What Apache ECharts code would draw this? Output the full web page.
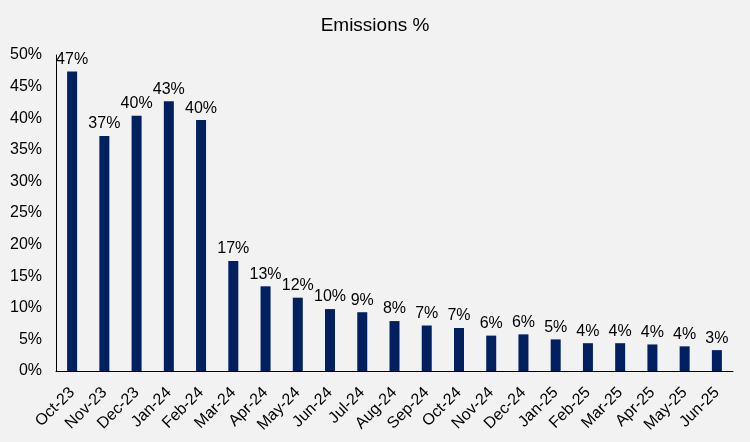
<!DOCTYPE html>
<html>
<head>
<meta charset="utf-8">
<script src="https://cdn.jsdelivr.net/npm/echarts@6/dist/echarts.min.js"></script>
<style>
html,body{margin:0;padding:0;background:#f2f2f2;}
#c{width:750px;height:442px;}
</style>
</head>
<body>
<div id="c"></div>
<script>
var categories = ["Oct-23","Nov-23","Dec-23","Jan-24","Feb-24","Mar-24","Apr-24","May-24","Jun-24","Jul-24","Aug-24","Sep-24","Oct-24","Nov-24","Dec-24","Jan-25","Feb-25","Mar-25","Apr-25","May-25","Jun-25"];
var emissions = [47.4,37.2,40.4,42.7,39.7,17.4,13.4,11.6,9.8,9.3,7.9,7.2,6.8,5.6,5.8,5.0,4.4,4.4,4.2,3.9,3.3];
var yTicks = {min:0, max:50, interval:5};

var chart = echarts.init(document.getElementById('c'));
chart.setOption({
  backgroundColor:'#f2f2f2',
  animation:false,
  title:{text:'Emissions %', left:'center', top:11, textStyle:{fontFamily:'Liberation Sans, Arial', fontSize:19, fontWeight:'normal', color:'#000'}},
  grid:{left:56, right:17, top:55, bottom:71},
  xAxis:{type:'category', data:categories,
    axisLine:{lineStyle:{color:'#000', width:1}},
    axisTick:{show:false},
    axisLabel:{rotate:45, interval:0, color:'#000', fontSize:16, fontFamily:'Liberation Sans, Arial', margin:19}},
  yAxis:{type:'value', min:yTicks.min, max:yTicks.max, interval:yTicks.interval,
    axisLine:{show:true, lineStyle:{color:'#000', width:1}},
    axisTick:{show:false},
    splitLine:{show:false},
    axisLabel:{formatter:'{value}%', color:'#000', fontSize:16, fontFamily:'Liberation Sans, Arial', margin:14}},
  series:[{type:'bar', data:emissions, barWidth:10,
    itemStyle:{color:'#002060'},
    label:{show:true, position:'top', distance:4, color:'#000', fontSize:16, fontFamily:'Liberation Sans, Arial',
      formatter:function(p){return Math.round(p.value)+'%';}}}]
});
</script>
</body>
</html>
